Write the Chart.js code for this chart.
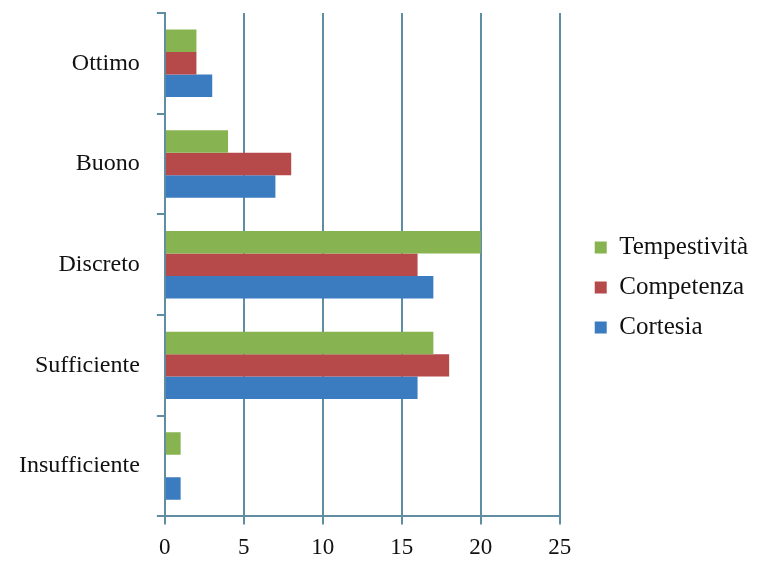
<!DOCTYPE html>
<html lang="it">
<head>
  <meta charset="UTF-8">
  <title>Valutazione servizio</title>
  <script src="https://cdn.jsdelivr.net/npm/chart.js"></script>
  <style>
    body { margin: 0; background: #ffffff; }
    #wrap { width: 762px; height: 563px; }
  </style>
</head>
<body>
  <div id="wrap"><canvas id="chart" width="762" height="563"></canvas></div>
  <script>
    const categories = ['Ottimo', 'Buono', 'Discreto', 'Sufficiente', 'Insufficiente'];
    const tempestivita = [2, 4, 20, 17, 1];
    const competenza = [2, 8, 16, 18, 0];
    const cortesia = [3, 7, 17, 16, 1];
    const xTicks = [0, 5, 10, 15, 20, 25];

    const gridColor = '#5f8ea3';
    const serif = "'Liberation Serif', 'DejaVu Serif', serif";

    // nudge the legend a little to the right of where Chart.js puts it
    const legendShift = {
      id: 'legendShift',
      afterLayout(chart) {
        chart.legend.left += 20;
        chart.legend.right += 20;
      }
    };

    new Chart(document.getElementById('chart'), {
      type: 'bar',
      data: {
        labels: categories,
        datasets: [
          { label: 'Tempestività', data: tempestivita, backgroundColor: '#88b351' },
          { label: 'Competenza', data: competenza, backgroundColor: '#b64a4b' },
          { label: 'Cortesia', data: cortesia, backgroundColor: '#3b7bbf' }
        ]
      },
      options: {
        indexAxis: 'y',
        responsive: false,
        animation: false,
        devicePixelRatio: 1,
        datasets: { bar: { categoryPercentage: 0.67, barPercentage: 1.0 } },
        layout: { padding: { left: 2, right: 24, top: 13, bottom: 1 } },
        plugins: {
          tooltip: { enabled: false },
          legend: {
            position: 'right',
            labels: {
              color: '#111',
              font: { family: serif, size: 25 },
              boxWidth: 12,
              boxHeight: 12,
              padding: 15
            }
          }
        },
        scales: {
          x: {
            min: 0,
            max: 25,
            afterBuildTicks: axis => { axis.ticks = xTicks.map(v => ({ value: v })); },
            afterFit: s => { s.height -= 10; },
            grid: { color: gridColor, lineWidth: 2, tickLength: 8 },
            border: { color: gridColor, width: 2 },
            ticks: { color: '#111', font: { family: serif, size: 23 }, padding: 10 }
          },
          y: {
            afterFit: s => { s.paddingTop = 0; s.paddingBottom = 0; },
            grid: { drawOnChartArea: false, color: gridColor, lineWidth: 2, tickLength: 8 },
            border: { color: gridColor, width: 2 },
            ticks: { color: '#111', font: { family: serif, size: 24 }, padding: 17 }
          }
        }
      },
      plugins: [legendShift]
    });
  </script>
</body>
</html>
